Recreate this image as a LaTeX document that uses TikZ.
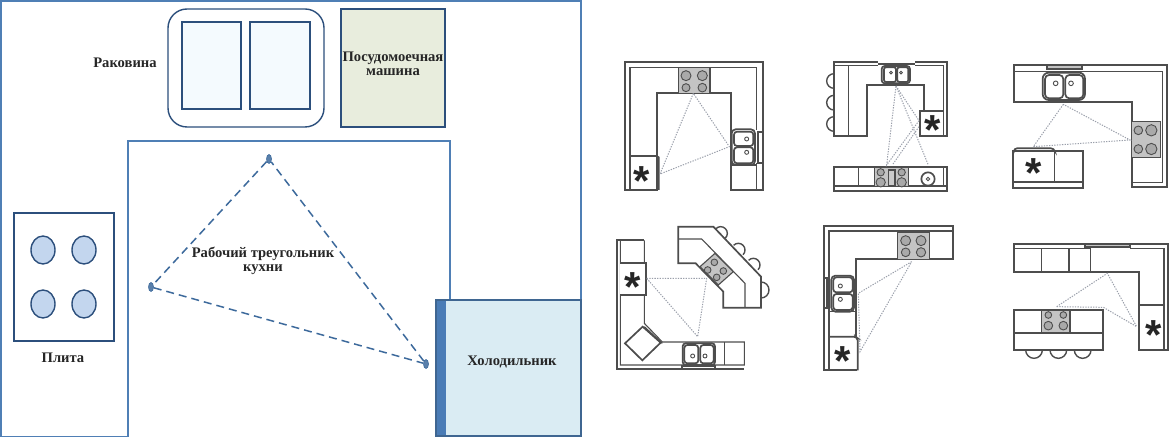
\documentclass[tikz,border=0pt]{standalone}
\usepackage{fontspec}
\setmainfont{Liberation Serif}
\newfontfamily\astfont{Liberation Sans}
\usetikzlibrary{shapes.geometric}
\definecolor{wallblue}{HTML}{4F7FB5}
\definecolor{darkblue}{HTML}{2C4F7C}
\definecolor{dashblue}{HTML}{3D6A9C}
\definecolor{burnerfill}{HTML}{C3D6EE}
\definecolor{sinkfill}{HTML}{F4FAFE}
\definecolor{dishfill}{HTML}{E8EDDD}
\definecolor{fridgefill}{HTML}{DAECF3}
\definecolor{fridgeband}{HTML}{4A7CB6}
\definecolor{plan}{HTML}{4D4D4D}
\definecolor{cook}{HTML}{C4C4C4}
\definecolor{burn}{HTML}{A9A9A9}
\definecolor{tri}{HTML}{9A9FAA}
\tikzset{
  label text/.style={font=\bfseries\fontsize{14.6}{14}\selectfont,align=center,inner sep=0pt,text=black!85},
  wall/.style={draw=wallblue,line width=1.5pt},
  darkbox/.style={draw=darkblue,line width=1.4pt},
  burnerdisk/.style={darkbox,fill=burnerfill},
  vertex/.style={ellipse,draw=dashblue,fill=dashblue!85,line width=.6pt,minimum width=5pt,minimum height=9pt,inner sep=0pt},
  worktri/.style={draw=dashblue,dash pattern=on 8pt off 5pt,line width=1.5pt},
  pl/.style={draw=plan,line width=1.1pt},
  plthick/.style={draw=plan,line width=1.7pt},
  stoolarc/.style={draw=plan,line width=1.4pt},
  cookbox/.style={draw=plan,line width=1.1pt,fill=cook},
  tr/.style={draw=tri,line width=1pt,dash pattern=on 1.3pt off 1.3pt},
  astk/.style={font=\astfont\bfseries\fontsize{42}{42}\selectfont,anchor=base,inner sep=0pt,text=black!85},
  thumb/.style={scale=1/3}
}
\newcommand{\burner}[3]{\draw[draw=plan,line width=.9pt,fill=burn] (#1,#2) circle[radius=#3];}
\newcommand{\drain}[3]{\draw[draw=plan,line width=.9pt,fill=white] (#1,#2) circle[radius=#3];}
\newcommand{\stool}[4]{\draw[stoolarc] ({#1+#4*cos(#3)},{#2+#4*sin(#3)}) arc[start angle=#3,end angle=#3+180,radius=#4];}
\newcommand{\starat}[2]{\node[astk,yshift=-21pt] at (#1,#2) {*};}
\begin{document}
\begin{tikzpicture}[x=1pt,y=-1pt]
\useasboundingbox (0,0) rectangle (1170,438);
\fill[white] (0,0) rectangle (1170,438);
% ---------- left plan
\draw[wall] (128,436.5) -- (1,436.5) -- (1,1) -- (581,1) -- (581,300);
\draw[wall] (128,436.5) -- (128,141) -- (450,141) -- (450,300);
\draw[darkbox,rounded corners=19pt] (168,9) rectangle (324,127);
\draw[darkbox,fill=sinkfill] (182,22) rectangle (241,109);
\draw[darkbox,fill=sinkfill] (250,22) rectangle (310,109);
\draw[darkbox,fill=dishfill] (341,9) rectangle (445,127);
\draw[darkbox] (14,213) rectangle (114,341);
\foreach \bx in {43,84} \foreach \by in {250,304}
  \draw[burnerdisk] (\bx,\by) ellipse[x radius=12,y radius=14];
\fill[fridgefill] (436,300) rectangle (581,436);
\fill[fridgeband] (436,300) rectangle (446,436);
\draw[draw=wallblue!80!black,line width=1.4pt] (436,436) -- (436,300) -- (581,300) -- (581,436) -- cycle;
\node[vertex] (sinkpt) at (269,159) {};
\node[vertex] (stovept) at (151,287) {};
\node[vertex] (fridgept) at (426,364) {};
\draw[worktri] (sinkpt) -- (stovept);
\draw[worktri] (stovept) -- (fridgept);
\draw[worktri] (fridgept) -- (sinkpt);
\node[label text] (lsink) at (125,63) {Раковина};
\node[label text] (ldish) at (393,63.5) {Посудомоечная\\машина};
\node[label text] (lstove) at (63,358) {Плита};
\node[label text] (ltri) at (263,261) {Рабочий треугольник\\кухни};
\node[label text] (lfridge) at (512,362) {Холодильник};
% ---------- thumbnail 1
\begin{scope}[shift={(610,50)},thumb]
\draw[plthick] (140,420) -- (44,420) -- (44,36) -- (458,36) -- (458,420) -- (362,420) -- (362,130) -- (140,130) -- cycle;
\draw[pl] (60,420) -- (60,52) -- (440,52) -- (440,240);
\draw[pl] (440,340) -- (440,420);
\draw[plthick] (60,318) -- (140,318) -- (146,322) -- (146,420);
\draw[cookbox] (205,52) rectangle (300,130);
\burner{228}{77}{15}\burner{277}{77}{15}\burner{228}{113}{12}\burner{277}{113}{13}
\draw[plthick,rounded corners=4pt,fill=white] (365,238) rectangle (435,345);
\draw[plthick,rounded corners=3pt] (372,245) rectangle (430,288);
\draw[plthick,rounded corners=3pt] (372,292) rectangle (430,340);
\drain{410}{267}{6}\drain{410}{307}{6}
\draw[plthick,fill=white] (443,245) rectangle (458,338);
\draw[pl] (362,345) -- (440,345);
\starat{95}{375}
\draw[tr] (250,130) -- (150,372) -- (358,290) -- cycle;
\end{scope}
% ---------- thumbnail 2
\begin{scope}[shift={(815,50)},thumb]
\draw[plthick] (57,46) -- (57,36) -- (190,36) (300,36) -- (395,36) -- (395,258) -- (327,258);
\draw[pl] (57,46) -- (190,46) (300,46) -- (385,46) -- (385,258);
\draw[plthick] (190,42) -- (300,42);
\draw[plthick] (57,46) -- (57,258) -- (157,258) -- (157,105) -- (327,105) -- (327,183);
\draw[pl] (100,46) -- (100,258);
\draw[plthick] (385,183) -- (316,183) -- (316,258) -- (327,258);
\stool{57}{93}{90}{22}\stool{57}{158}{90}{22}\stool{57}{222}{90}{22}
\draw[plthick,rounded corners=3pt] (200,48) rectangle (285,100);
\draw[plthick,rounded corners=2pt] (207,52) rectangle (243,96);
\draw[plthick,rounded corners=2pt] (247,52) rectangle (280,96);
\drain{228}{68}{4}\drain{258}{68}{4}
\draw[plthick] (57,352) -- (395,352) -- (395,422) -- (57,422) -- cycle;
\draw[pl] (57,408) -- (395,408) (130,352) -- (130,408) (385,352) -- (385,408);
\draw[cookbox] (178,352) rectangle (280,410);
\draw[pl,fill=burn!60] (221,360) rectangle (240,408);
\burner{197}{367}{11}\burner{197}{397}{14}\burner{260}{367}{11}\burner{260}{397}{14}
\draw[plthick] (339,387) circle[radius=20];
\drain{339}{387}{5}
\starat{352}{222}
\draw[tr] (243,108) -- (312,212) -- (215,345) -- cycle;
\draw[tr] (243,108) -- (340,345);
\draw[tr] (312,230) -- (232,345);
\end{scope}
% ---------- thumbnail 3
\begin{scope}[shift={(1000,50)},thumb]
\draw[plthick] (42,46) -- (502,46) -- (502,412) -- (395,412) -- (395,155) -- (42,155) -- cycle;
\draw[pl] (42,65) -- (487,65) -- (487,398) -- (395,398);
\draw[plthick,fill=burn!70] (142,46) rectangle (245,58);
\draw[plthick,rounded corners=6pt,fill=white] (128,68) rectangle (255,150);
\draw[plthick,rounded corners=4pt] (135,75) rectangle (190,145);
\draw[plthick,rounded corners=4pt] (196,75) rectangle (250,145);
\drain{167}{100}{7}\drain{213}{100}{7}
\draw[cookbox] (395,215) rectangle (482,322);
\burner{415}{241}{13}\burner{454}{241}{17}\burner{415}{297}{13}\burner{454}{297}{17}
\draw[plthick] (40,302) rectangle (248,413);
\draw[pl] (40,396) -- (248,396) (164,302) -- (164,396);
\draw[plthick,rounded corners=3pt] (42,302) -- (42,295) -- (162,295) -- (164,302);
\starat{100}{350}
\draw[tr] (190,163) -- (100,290) -- (390,270) -- cycle;
\end{scope}
% ---------- thumbnail 4
\begin{scope}[shift={(605,215)},thumb]
\draw[plthick] (118,76) -- (36,76) -- (36,462) -- (418,462);
\draw[pl] (46,76) -- (46,450) -- (418,450) -- (418,381) -- (172,381) -- (118,325) -- (118,76);
\draw[pl] (118,335) -- (172,385);
\draw[plthick,fill=white] (46,143) -- (122,143) -- (122,240) -- (46,240);
\draw[plthick,fill=white] (113,335) -- (167,383) -- (112,436) -- (60,385) -- cycle;
\draw[plthick,rounded corners=3pt] (233,385) rectangle (330,450);
\draw[plthick,rounded corners=3pt] (238,390) rectangle (280,445);
\draw[plthick,rounded corners=3pt] (286,390) rectangle (326,445);
\drain{263}{423}{6}\drain{300}{423}{6}
\draw[plthick] (232,452) rectangle (330,462);
\draw[pl] (358,381) -- (358,450);
\stool{347}{55}{-135}{20}\stool{400}{105}{-135}{20}\stool{445}{150}{-135}{20}\stool{468}{225}{-90}{24}
\draw[plthick,fill=white] (220,35) -- (325,35) -- (468,185) -- (468,278) -- (355,278) -- (355,230) -- (272,145) -- (220,145) -- cycle;
\draw[pl] (220,72) -- (290,72) -- (420,205) -- (420,278);
\draw[cookbox] (330,115) -- (385,170) -- (340,210) -- (285,155) -- cycle;
\burner{328}{142}{10}\burner{355}{168}{10}\burner{308}{165}{10}\burner{335}{187}{10}
\starat{82}{196}
\draw[tr] (125,190) -- (305,190) -- (278,365) -- cycle;
\end{scope}
% ---------- thumbnail 5
\begin{scope}[shift={(810,215)},thumb]
\draw[plthick] (142,466) -- (42,466) -- (42,32) -- (430,32) -- (430,133) -- (137,133) -- (137,365);
\draw[pl] (57,466) -- (57,48) -- (430,48);
\draw[plthick,rounded corners=2pt] (57,365) -- (137,365) -- (143,370) -- (143,466);
\draw[cookbox] (262,52) rectangle (358,133);
\burner{287}{77}{15}\burner{333}{77}{15}\burner{287}{112}{13}\burner{333}{112}{14}
\draw[plthick,rounded corners=4pt,fill=white] (64,182) rectangle (132,290);
\draw[plthick,rounded corners=3pt] (70,187) rectangle (128,232);
\draw[plthick,rounded corners=3pt] (70,237) rectangle (128,285);
\drain{91}{213}{6}\drain{91}{253}{6}
\draw[plthick,fill=white] (42,190) rectangle (52,280);
\draw[pl] (57,290) -- (137,290);
\starat{97}{420}
\draw[tr] (305,140) -- (145,235) -- (150,410) -- cycle;
\end{scope}
% ---------- thumbnail 6
\begin{scope}[shift={(1000,230)},thumb]
\stool{102}{360}{0}{25}\stool{175}{360}{0}{25}\stool{248}{360}{0}{25}
\draw[plthick] (255,42) -- (42,42) -- (42,125) -- (418,125) -- (418,360) -- (505,360) -- (505,42) -- (390,42);
\draw[pl] (42,55) -- (272,55) -- (272,125) (390,55) -- (492,55) -- (492,360);
\draw[pl] (125,55) -- (125,125) (207,55) -- (207,125);
\draw[plthick,fill=burn!70] (255,42) rectangle (390,52);
\draw[plthick] (418,225) -- (492,225);
\draw[plthick,fill=white] (42,240) rectangle (308,360);
\draw[plthick] (42,308) -- (308,308);
\draw[cookbox] (125,240) rectangle (210,308);
\burner{145}{255}{10}\burner{190}{255}{10}\burner{145}{287}{13}\burner{190}{287}{13}
\starat{460}{295}
\draw[tr] (170,230) -- (322,130) -- (410,290) -- (310,232) -- cycle;
\end{scope}
\end{tikzpicture}
\end{document}
